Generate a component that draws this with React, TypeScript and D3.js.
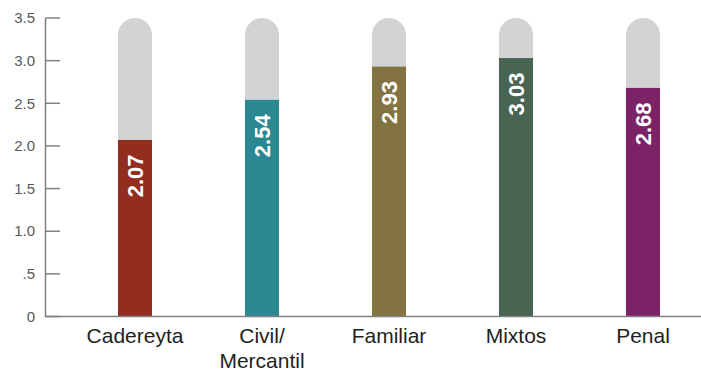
import React from "react"
import * as d3 from "d3"

const categories = ["Cadereyta", "Civil/\nMercantil", "Familiar", "Mixtos", "Penal"]
const values = [2.07, 2.54, 2.93, 3.03, 2.68]
const barColors = ["#932d20", "#2a8893", "#837341", "#486452", "#7c2367"]
const yTicks = [0, 0.5, 1, 1.5, 2, 2.5, 3, 3.5]
const yTickLabels = ["0", ".5", "1.0", "1.5", "2.0", "2.5", "3.0", "3.5"]
const maxValue = 3.5

const width = 701
const height = 371
const font = "'Liberation Sans', Arial, sans-serif"

export default function App() {
  const x = d3
    .scaleBand()
    .domain(categories)
    .range([71.5, 706.5])
    .paddingInner(0.732)
    .paddingOuter(0.366)

  const y = d3.scaleLinear().domain([0, maxValue]).range([316.5, 18])

  const bw = x.bandwidth()
  const r = bw / 2

  // grey track with a rounded top
  const trackPath = (x0: number) => {
    const top = y(maxValue)
    const bottom = y(0)
    return `M${x0},${bottom} L${x0},${top + r} A${r},${r} 0 0 1 ${x0 + bw},${top + r} L${x0 + bw},${bottom} Z`
  }

  return (
    <div style={{ position: "absolute", left: 0, top: 0, background: "white" }}>
      <svg width={width} height={height} style={{ display: "block" }}>
        {categories.map((c, i) => {
          const x0 = x(c) as number
          const cx = x0 + bw / 2
          const yTop = y(values[i])
          return (
            <g key={c}>
              <path d={trackPath(x0)} fill="#d1d3d4" />
              <rect x={x0} y={yTop} width={bw} height={y(0) - yTop} fill={barColors[i]} />
              <text
                transform={`translate(${cx + 8},${yTop + 14.5}) rotate(-90)`}
                textAnchor="end"
                fill="white"
                fontFamily={font}
                fontWeight="bold"
                fontSize={22}
              >
                {values[i].toFixed(2)}
              </text>
              <text
                x={cx}
                y={343}
                textAnchor="middle"
                fill="#231f20"
                fontFamily={font}
                fontSize={21}
              >
                {c.split("\n").map((line, j) => (
                  <tspan key={j} x={cx} dy={j === 0 ? 0 : 25}>
                    {line}
                  </tspan>
                ))}
              </text>
            </g>
          )
        })}

        {/* y axis */}
        <line x1={45.5} x2={45.5} y1={y(maxValue)} y2={y(0)} stroke="#808080" strokeWidth={1.5} />
        {yTicks.map((t, i) => (
          <g key={t}>
            <line x1={45.5} x2={60} y1={y(t)} y2={y(t)} stroke="#808080" strokeWidth={1.5} />
            <text
              x={35}
              y={y(t)}
              dy="0.35em"
              textAnchor="end"
              fill="#58595b"
              fontFamily={font}
              fontSize={15}
            >
              {yTickLabels[i]}
            </text>
          </g>
        ))}

        {/* x axis */}
        <line x1={45} x2={width} y1={y(0)} y2={y(0)} stroke="#808080" strokeWidth={1.5} />
      </svg>
    </div>
  )
}
